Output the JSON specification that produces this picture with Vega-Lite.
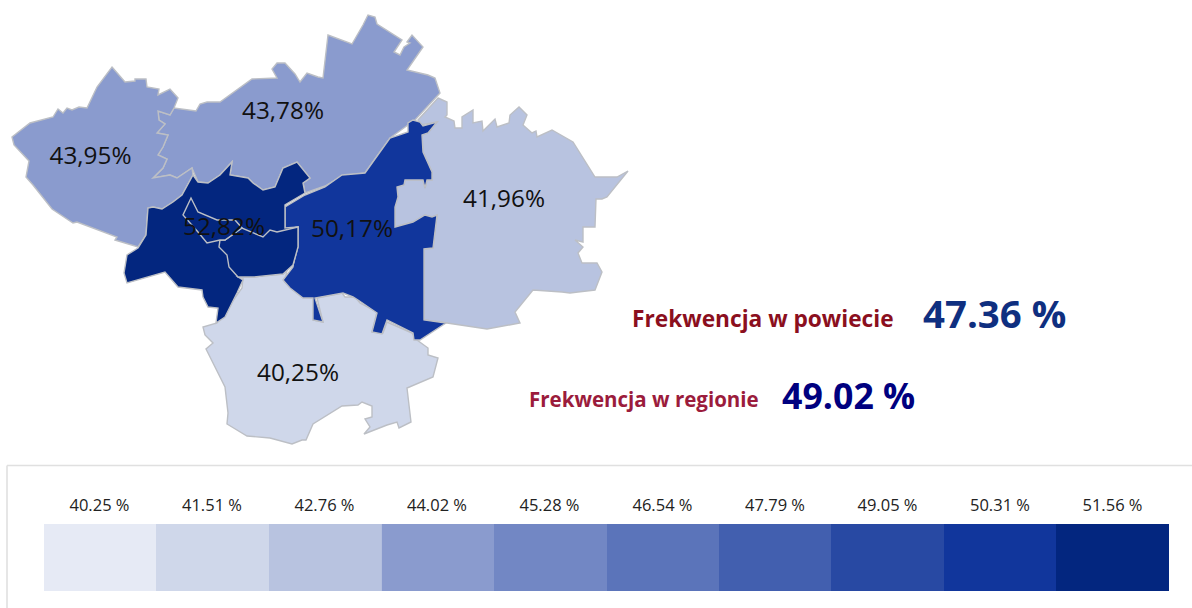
{"$schema":"https://vega.github.io/schema/vega-lite/v6.json","width":1192,"height":608,"padding":0,"autosize":"none","background":"white","view":{"stroke":null},
"datasets":{
"regions":[
{"type":"Feature","properties":{"name":"north","band":"44.02 %"},"geometry":{"type":"Polygon","coordinates":[[[170,115],[174,108],[196,111],[200,104],[207,102],[220,102],[252,79],[277,78],[272,69],[277,63],[285,63],[295,74],[300,82],[307,73],[318,77],[323,78],[328,35],[352,44],[363,25],[368,15],[375,17],[377,24],[402,40],[394,52],[400,55],[404,47],[410,43],[407,42],[412,35],[423,47],[407,70],[428,75],[435,78],[440,93],[415,120],[408,125],[390,138],[365,173],[342,176],[325,186],[305,193],[303,183],[310,178],[297,162],[283,168],[275,187],[263,190],[253,183],[248,178],[230,175],[232,162],[220,175],[208,183],[198,182],[192,168],[177,178],[170,175],[153,178],[163,168],[167,159],[158,155],[163,147],[168,135],[157,133],[165,124],[159,120],[158,111],[170,115]]]}},
{"type":"Feature","properties":{"name":"west","band":"44.02 %"},"geometry":{"type":"Polygon","coordinates":[[[112,67],[125,82],[135,81],[135,79],[146,79],[147,87],[159,89],[158,95],[170,89],[178,98],[174,108],[170,115],[158,111],[159,120],[165,124],[157,133],[168,135],[163,147],[158,155],[167,159],[163,168],[153,178],[170,175],[177,178],[192,168],[193,175],[182,195],[173,202],[162,209],[153,207],[148,208],[146,235],[138,247],[115,240],[117,237],[77,222],[73,223],[52,209],[33,185],[26,177],[29,161],[14,145],[12,137],[30,123],[53,117],[58,109],[63,113],[67,108],[72,110],[79,107],[87,108],[97,87],[112,67]]]}},
{"type":"Feature","properties":{"name":"east","band":"42.76 %"},"geometry":{"type":"Polygon","coordinates":[[[438,98],[447,102],[447,115],[445,117],[454,121],[455,128],[462,128],[462,117],[473,110],[473,123],[482,121],[483,131],[495,119],[497,127],[509,123],[510,115],[519,107],[527,115],[523,125],[532,133],[536,131],[537,137],[552,130],[573,142],[595,177],[617,177],[628,171],[607,197],[602,199],[596,199],[595,227],[583,227],[583,242],[575,240],[583,247],[578,253],[582,263],[597,263],[602,272],[595,290],[578,292],[570,293],[562,292],[533,290],[515,312],[520,323],[487,329],[447,323],[424,320],[424,249],[433,248],[437,215],[432,217],[425,215],[413,222],[395,227],[395,207],[398,197],[397,187],[404,185],[405,180],[423,180],[425,188],[427,180],[432,180],[432,172],[423,152],[422,135],[428,133],[437,122],[420,125],[418,120],[438,98]]]}},
{"type":"Feature","properties":{"name":"south","band":"41.51 %"},"geometry":{"type":"Polygon","coordinates":[[[243,278],[242,288],[217,323],[203,327],[205,335],[213,343],[206,349],[225,387],[228,413],[227,424],[247,436],[270,438],[292,444],[302,440],[306,440],[313,424],[342,406],[358,405],[362,402],[372,406],[372,417],[365,419],[370,427],[364,434],[387,425],[397,422],[399,428],[411,422],[407,388],[433,377],[438,358],[428,355],[428,348],[417,340],[412,333],[387,322],[383,333],[372,332],[377,312],[360,303],[355,297],[345,297],[342,293],[317,298],[323,322],[313,320],[315,298],[302,297],[285,282],[287,270],[284,272],[255,277],[233,275],[243,278]]]}},
{"type":"Feature","properties":{"name":"centre","band":"50.31 %"},"geometry":{"type":"Polygon","coordinates":[[[413,120],[420,122],[423,126],[437,122],[428,133],[422,135],[423,152],[432,172],[432,180],[427,180],[425,188],[423,180],[405,180],[404,185],[397,187],[398,197],[395,207],[395,227],[413,222],[425,215],[432,217],[437,215],[433,248],[424,249],[424,320],[446,323],[420,340],[414,340],[413,333],[387,320],[382,334],[372,332],[377,313],[358,300],[353,297],[343,293],[315,298],[323,322],[313,320],[313,298],[303,298],[290,288],[283,280],[293,267],[298,227],[285,229],[285,207],[305,195],[325,187],[342,175],[365,173],[390,138],[408,132],[408,123],[413,120]]]}},
{"type":"Feature","properties":{"name":"city-west","band":"51.56 %"},"geometry":{"type":"Polygon","coordinates":[[[193,175],[198,182],[208,183],[220,175],[232,162],[230,175],[248,178],[253,183],[263,190],[275,187],[283,168],[297,162],[310,178],[303,183],[305,193],[285,205],[285,228],[298,227],[298,247],[293,265],[283,274],[253,277],[238,277],[243,280],[237,293],[225,317],[216,323],[218,308],[208,307],[203,297],[202,290],[178,287],[165,272],[127,283],[124,273],[127,255],[138,248],[146,235],[148,208],[153,207],[162,209],[173,202],[182,195],[193,175]]]}},
{"type":"Feature","properties":{"name":"city-east","band":"51.56 %"},"geometry":{"type":"Polygon","coordinates":[[[225,240],[220,240],[219,247],[227,255],[229,267],[238,277],[253,277],[283,274],[293,265],[298,247],[298,227],[277,232],[270,230],[263,237],[242,228],[225,240]]]}},
{"type":"Feature","properties":{"name":"city","band":"51.56 %"},"geometry":{"type":"Polygon","coordinates":[[[191,198],[198,212],[217,220],[235,220],[242,228],[225,240],[220,240],[207,243],[198,232],[183,215],[191,198]]]}}
],
"mapLabels":[
{"label":"43,78%","cx":283,"cy":112},{"label":"43,95%","cx":90.5,"cy":157},{"label":"41,96%","cx":504,"cy":200},{"label":"52,82%","cx":224,"cy":228},{"label":"50,17%","cx":352,"cy":230},{"label":"40,25%","cx":298,"cy":374}
],
"scale":[
{"band":"40.25 %","start":44,"end":156,"mid":99.5},{"band":"41.51 %","start":156,"end":268.5,"mid":212},{"band":"42.76 %","start":268.5,"end":381.5,"mid":324.5},{"band":"44.02 %","start":381.5,"end":494,"mid":437},{"band":"45.28 %","start":494,"end":607,"mid":549.5},{"band":"46.54 %","start":607,"end":719,"mid":662.5},{"band":"47.79 %","start":719,"end":831,"mid":775},{"band":"49.05 %","start":831,"end":944,"mid":887.5},{"band":"50.31 %","start":944,"end":1056,"mid":1000},{"band":"51.56 %","start":1056,"end":1169,"mid":1112.5}
],
"notes":[
{"text":"Frekwencja w powiecie","px":632,"py":320,"kind":"a"},{"text":"Frekwencja w regionie","px":529,"py":401,"kind":"b"}
],
"values":[
{"text":"47.36 %","px":923,"py":316,"kind":"c"},{"text":"49.02 %","px":782,"py":398,"kind":"d"}
],
"frame":[
{"x0":7,"x1":1192,"y0":465.5,"y1":465.5},{"x0":7,"x1":7,"y0":465.5,"y1":608}
]
},
"layer":[
{"data":{"name":"frame"},"mark":{"type":"rule","color":"#E0E0E0","strokeWidth":1.6},"encoding":{"x":{"field":"x0","type":"quantitative","scale":{"domain":[0,1192],"nice":false,"zero":false},"axis":null},"x2":{"field":"x1"},"y":{"field":"y0","type":"quantitative","scale":{"domain":[608,0],"nice":false,"zero":false},"axis":null},"y2":{"field":"y1"}}},
{"data":{"name":"regions"},"projection":{"type":"identity","scale":1,"translate":[0,0],"reflectY":false},"mark":{"type":"geoshape","stroke":"#BCBFC5","strokeWidth":1.4},"encoding":{"color":{"field":"properties.band","type":"nominal","legend":null,"scale":{"domain":["40.25 %","41.51 %","42.76 %","44.02 %","45.28 %","46.54 %","47.79 %","49.05 %","50.31 %","51.56 %"],"range":["#E6EAF5","#CFD7EA","#B8C3E0","#8A9BCE","#7287C4","#5B74BA","#425FAF","#2849A3","#11369C","#03267F"]}}}},
{"data":{"name":"mapLabels"},"mark":{"type":"text","font":"Open Sans","fontSize":24.3,"color":"#111111","align":"center","baseline":"middle"},"encoding":{"x":{"field":"cx","type":"quantitative"},"y":{"field":"cy","type":"quantitative"},"text":{"field":"label"}}},
{"data":{"name":"scale"},"mark":{"type":"rect"},"encoding":{"x":{"field":"start","type":"quantitative"},"x2":{"field":"end"},"y":{"datum":524,"type":"quantitative"},"y2":{"datum":591},"color":{"field":"band","type":"nominal","legend":null,"scale":{"domain":["40.25 %","41.51 %","42.76 %","44.02 %","45.28 %","46.54 %","47.79 %","49.05 %","50.31 %","51.56 %"],"range":["#E6EAF5","#CFD7EA","#B8C3E0","#8A9BCE","#7287C4","#5B74BA","#425FAF","#2849A3","#11369C","#03267F"]}}}},
{"data":{"name":"scale"},"mark":{"type":"text","font":"Open Sans","fontSize":16.5,"color":"#222222","align":"center","baseline":"middle"},"encoding":{"x":{"field":"mid","type":"quantitative"},"y":{"datum":506,"type":"quantitative"},"text":{"field":"band"}}},
{"data":{"name":"notes"},"mark":{"type":"text","font":"Open Sans","fontWeight":"bold","align":"left","baseline":"middle"},"encoding":{"x":{"field":"px","type":"quantitative"},"y":{"field":"py","type":"quantitative"},"text":{"field":"text"},"size":{"field":"kind","type":"nominal","legend":null,"scale":{"domain":["a","b"],"range":[22.7,20.5]}},"color":{"field":"kind","type":"nominal","legend":null,"scale":{"domain":["a","b"],"range":["#8B0F1E","#9B1C3C"]}}}},
{"data":{"name":"values"},"mark":{"type":"text","font":"Open Sans","fontWeight":"bold","align":"left","baseline":"middle"},"encoding":{"x":{"field":"px","type":"quantitative"},"y":{"field":"py","type":"quantitative"},"text":{"field":"text"},"size":{"field":"kind","type":"nominal","legend":null,"scale":{"domain":["c","d"],"range":[38.4,35.7]}},"color":{"field":"kind","type":"nominal","legend":null,"scale":{"domain":["c","d"],"range":["#0F2F80","#00007F"]}}}}
],
"resolve":{"scale":{"color":"independent","size":"independent"}}
}
